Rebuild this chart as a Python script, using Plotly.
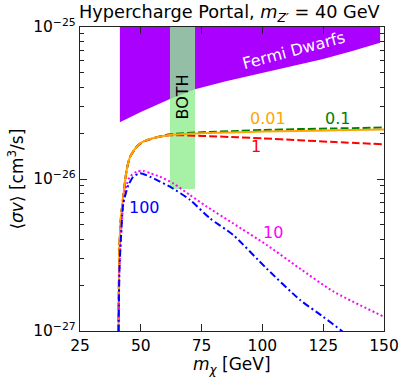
import plotly.graph_objects as go

# Fermi dwarf exclusion region (lower edge, GeV vs cm^3/s)
fermi_m = [41.4, 50, 62, 72.3, 85, 100, 112, 125, 137, 148.4]
fermi_low = [2.36e-26, 2.76e-26, 3.36e-26, 3.89e-26, 4.4e-26, 4.98e-26, 5.5e-26, 6.16e-26, 6.95e-26, 7.88e-26]
fermi_top = 1e-25

# region excluded by both
both_m = [62, 72.3]
both_low = 8.6e-27
both_top = 1e-25

# <sigma v> curves, labelled by coupling
m_rise = [40.7, 41.2, 41.8, 42.8, 44.2, 45.6, 48.3, 51, 56.5]
m_flat = [62, 75, 90, 100, 115, 130, 150]
rise = [5e-28, 3.5e-27, 5.5e-27, 7.7e-27, 1.15e-26, 1.40e-26, 1.63e-26, 1.76e-26, 1.88e-26]
sv_001 = rise + [1.95e-26, 2.0e-26, 2.03e-26, 2.05e-26, 2.07e-26, 2.09e-26, 2.12e-26]
sv_01 = rise + [1.97e-26, 2.03e-26, 2.07e-26, 2.1e-26, 2.13e-26, 2.15e-26, 2.18e-26]
sv_1 = rise + [1.94e-26, 1.92e-26, 1.88e-26, 1.85e-26, 1.8e-26, 1.75e-26, 1.69e-26]

m_10 = [40.7, 41.2, 41.8, 42.8, 44.2, 45.6, 48.3, 51, 54, 57.9, 63.4, 70.2, 77, 88, 101.8, 115.5, 129.2, 150]
sv_10 = [5e-28, 2.5e-27, 4e-27, 6.9e-27, 9.2e-27, 1.04e-26, 1.116e-26, 1.13e-26, 1.09e-26, 1.035e-26,
         9.35e-27, 7.85e-27, 6.6e-27, 5.1e-27, 3.68e-27, 2.57e-27, 1.82e-27, 1.24e-27]
m_100 = [40.7, 41.2, 41.8, 42.8, 44.9, 46.9, 49.7, 53.8, 57.9, 62, 70.2, 78.5, 88, 101.8, 115.5, 125, 132, 136]
sv_100 = [5e-28, 2.5e-27, 4e-27, 6.9e-27, 9.1e-27, 1.035e-26, 1.09e-26, 1.035e-26, 9.6e-27, 8.9e-27,
          7.3e-27, 5.5e-27, 4.28e-27, 2.57e-27, 1.6e-27, 1.24e-27, 1.02e-27, 9e-28]

major_y = [1e-27, 1e-26, 1e-25]
major_y_text = ["10<sup>−27</sup>", "10<sup>−26</sup>", "10<sup>−25</sup>"]
minor_y = [k * 10.0 ** e for e in (-27, -26) for k in range(2, 10)]

FONT = "DejaVu Sans"

fig = go.Figure()

fig.add_trace(go.Scatter(
    x=fermi_m + fermi_m[::-1],
    y=fermi_low + [fermi_top] * len(fermi_m),
    fill="toself", fillcolor="#aa00ff", line=dict(width=0),
    mode="lines", hoverinfo="skip", showlegend=False,
))
fig.add_trace(go.Scatter(
    x=[both_m[0], both_m[1], both_m[1], both_m[0]],
    y=[both_low, both_low, both_top, both_top],
    fill="toself", fillcolor="rgba(144,238,144,0.8)", line=dict(width=0),
    mode="lines", hoverinfo="skip", showlegend=False,
))

# drawing order: orange above green/red, blue on top
curves = [
    (m_rise + m_flat, sv_01, "green", "8px,3px"),
    (m_rise + m_flat, sv_1, "red", "8px,3px"),
    (m_rise + m_flat, sv_001, "orange", "solid"),
    (m_10, sv_10, "magenta", "2px,2.5px"),
    (m_100, sv_100, "blue", "7px,3px,2px,3px"),
]
for mx, sv, col, dash in curves:
    fig.add_trace(go.Scatter(
        x=mx, y=sv, mode="lines", line=dict(color=col, width=2, dash=dash, shape="spline", smoothing=0.6),
        showlegend=False, hoverinfo="skip",
    ))

labels = [
    ("0.01", 102.5, -25.6, "orange"),
    ("0.1", 130.7, -25.6, "green"),
    ("1", 97.4, -25.785, "red"),
    ("10", 104.5, -26.355, "magenta"),
    ("100", 51.4, -26.185, "blue"),
]
for txt, x, y, col in labels:
    fig.add_annotation(x=x, y=y, text=txt, showarrow=False, font=dict(family=FONT, size=16, color=col))

fig.add_annotation(x=112.7, y=-25.152, text="Fermi Dwarfs", textangle=-15, showarrow=False,
                   font=dict(family=FONT, size=16, color="white"))
fig.add_annotation(x=67.2, y=-25.46, text="BOTH", textangle=-90, showarrow=False,
                   font=dict(family=FONT, size=16, color="black"))

# axis titles and title placed in paper coordinates
fig.add_annotation(xref="paper", yref="paper", x=0.5, y=-0.114, xanchor="center", yanchor="middle",
                   text="<i>m</i><sub><i>χ</i></sub> [GeV]", showarrow=False,
                   font=dict(family=FONT, size=17, color="black"))
fig.add_annotation(xref="paper", yref="paper", x=-0.212, y=0.5, xanchor="center", yanchor="middle",
                   textangle=-90, text="⟨<i>σv</i>⟩ [cm<sup>3</sup>/s]", showarrow=False,
                   font=dict(family=FONT, size=17, color="black"))
fig.add_annotation(xref="paper", yref="paper", x=0.493, y=1.043, xanchor="center", yanchor="middle",
                   text="Hypercharge Portal, <i>m</i><sub><i>Z′</i></sub> = 40 GeV", showarrow=False,
                   font=dict(family=FONT, size=17.7, color="black"))

axis_common = dict(
    showline=True, linecolor="#222", linewidth=1.3, mirror="allticks",
    ticks="inside", ticklen=7, tickwidth=1.2, tickcolor="#222",
    showgrid=False, zeroline=False, automargin=False,
    tickfont=dict(family=FONT, size=15.5, color="black"),
)

fig.update_xaxes(range=[25, 150], dtick=25, tick0=25, **axis_common)
fig.update_yaxes(
    type="log", range=[-27, -25], tickmode="array", tickvals=major_y, ticktext=major_y_text,
    minor=dict(ticks="inside", ticklen=4, tickwidth=1, tickcolor="#222", tickvals=minor_y, showgrid=False),
    **axis_common,
)

fig.update_layout(
    width=407, height=381,
    margin=dict(l=80, r=23, t=27, b=50),
    plot_bgcolor="white", paper_bgcolor="white",
    font=dict(family=FONT),
)

# drop the browser's default body margin so the figure fills the window exactly
fig.write_html(
    "out.html",
    config={"displayModeBar": False},
    post_script="document.body.style.margin='0';document.body.style.overflow='hidden';",
)
